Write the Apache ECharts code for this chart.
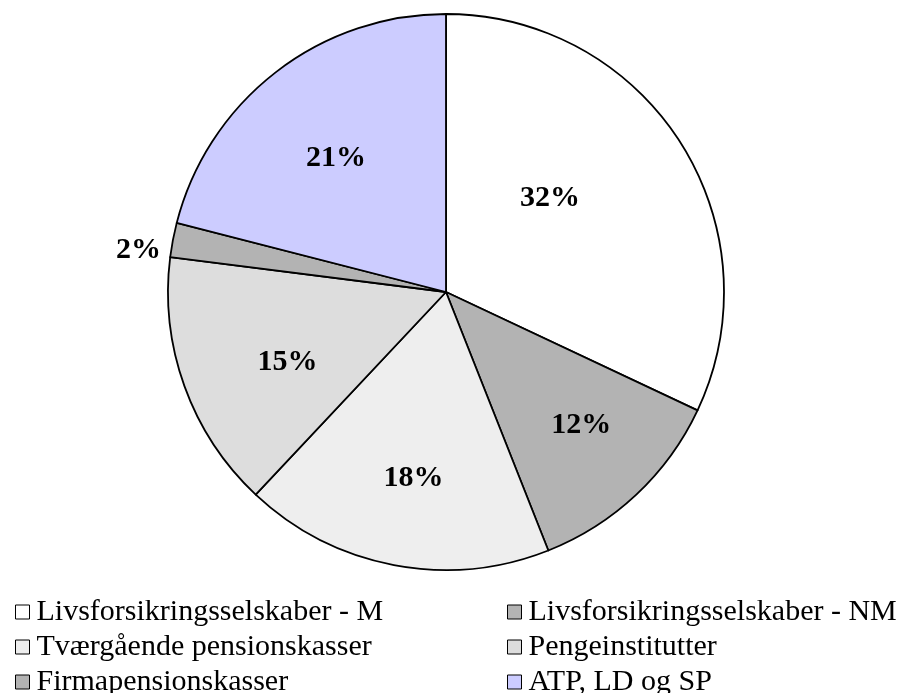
<!DOCTYPE html>
<html>
<head>
<meta charset="utf-8">
<style>
  html, body { margin: 0; padding: 0; background: #ffffff; }
  #chart { width: 900px; height: 693px; }
</style>
<script src="https://cdn.jsdelivr.net/npm/echarts@6/dist/echarts.min.js"></script>
</head>
<body>
<div id="chart"></div>
<script>
// Shares of pension assets by institution type (percent)
const categories = [
  'Livsforsikringsselskaber - M',
  'Livsforsikringsselskaber - NM',
  'Tværgående pensionskasser',
  'Pengeinstitutter',
  'Firmapensionskasser',
  'ATP, LD og SP'
];
const shares = [32, 12, 18, 15, 2, 21];

// Slice fills, one per category
const sliceColors = ['#ffffff', '#b3b3b3', '#eeeeee', '#dddddd', '#b3b3b3', '#ccccff'];
// Small nudges for the percentage labels relative to the slice midpoint
const labelNudge = [[-16, -18], [38, 30], [-6, 47], [-25, 22], [-168, -15], [-23, -22]];

const serif = '"Liberation Serif", "Times New Roman", Times, serif';

const chart = echarts.init(document.getElementById('chart'), null, { renderer: 'canvas' });

const legendBase = {
  orient: 'vertical',
  icon: 'rect',
  itemWidth: 14,
  itemHeight: 14,
  itemGap: 5,
  padding: 0,
  height: 130,
  selectedMode: false,
  itemStyle: { borderColor: '#000000', borderWidth: 1 },
  textStyle: { fontFamily: serif, fontSize: 30, lineHeight: 30, color: '#000000', padding: [0, 0, 0, 2] }
};

chart.setOption({
  animation: false,
  backgroundColor: '#ffffff',
  legend: [
    Object.assign({}, legendBase, {
      left: 15, top: 597,
      data: [categories[0], categories[2], categories[4]]
    }),
    Object.assign({}, legendBase, {
      left: 507, top: 597,
      data: [categories[1], categories[3], categories[5]]
    })
  ],
  series: [{
    type: 'pie',
    center: [446, 292],
    radius: [0, 278],
    startAngle: 90,
    clockwise: true,
    avoidLabelOverlap: false,
    itemStyle: { borderColor: '#000000', borderWidth: 1.8 },
    emphasis: { disabled: true },
    label: {
      show: true,
      position: 'inside',
      formatter: p => p.value + '%',
      fontFamily: serif,
      fontSize: 30,
      fontWeight: 'bold',
      color: '#000000'
    },
    labelLine: { show: false },
    data: categories.map((name, i) => ({
      name: name,
      value: shares[i],
      itemStyle: { color: sliceColors[i] },
      label: { offset: labelNudge[i] }
    }))
  }]
});
</script>
</body>
</html>
